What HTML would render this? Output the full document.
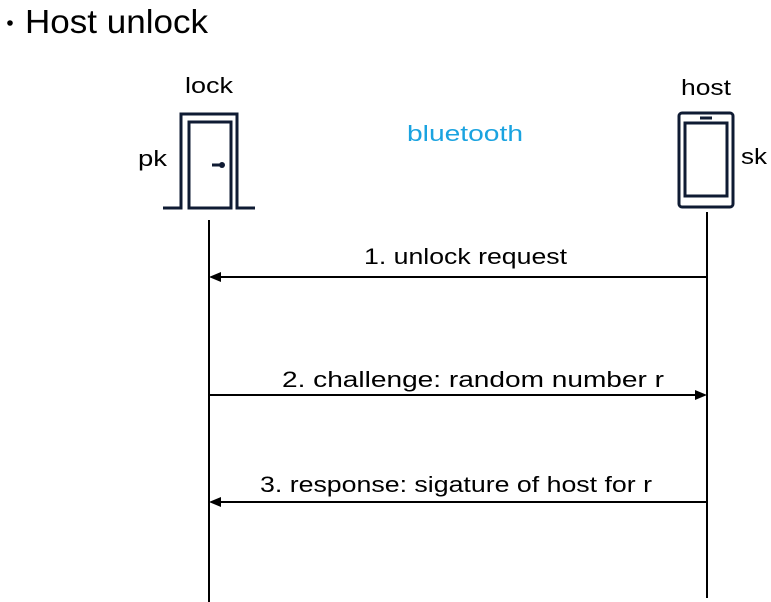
<!DOCTYPE html>
<html><head><style>body{margin:0;background:#fff}svg{display:block}</style></head><body>
<svg width="771" height="602" viewBox="0 0 771 602" xmlns="http://www.w3.org/2000/svg" font-family="Liberation Sans, sans-serif">
<circle cx="10" cy="23" r="2.8" fill="#000"/>
<text x="25" y="33" font-size="33" textLength="183" lengthAdjust="spacingAndGlyphs" fill="#000">Host unlock</text>
<text x="185" y="93" font-size="22" textLength="48" lengthAdjust="spacingAndGlyphs">lock</text>
<text x="681" y="95" font-size="22" textLength="50" lengthAdjust="spacingAndGlyphs">host</text>
<text x="138" y="166" font-size="22" textLength="29" lengthAdjust="spacingAndGlyphs">pk</text>
<text x="741" y="164" font-size="22" textLength="26" lengthAdjust="spacingAndGlyphs">sk</text>
<text x="407" y="141" font-size="22" fill="#1aa3e0" textLength="116" lengthAdjust="spacingAndGlyphs">bluetooth</text>
<g stroke="#0f1b33" stroke-width="3" fill="none">
<polyline points="163,208 181,208 181,114 237,114 237,208 255,208"/>
<rect x="189" y="122" width="42" height="86"/>
<line x1="212" y1="165" x2="220" y2="165"/>
<rect x="679" y="113" width="54" height="94" rx="3"/>
<rect x="685" y="123" width="42" height="73"/>
<line x1="700" y1="118" x2="712" y2="118"/>
</g>
<circle cx="222" cy="165" r="3" fill="#0f1b33"/>
<g stroke="#000" stroke-width="2">
<line x1="209" y1="220" x2="209" y2="602"/>
<line x1="707" y1="212" x2="707" y2="598"/>
<line x1="218" y1="277" x2="707" y2="277"/>
<line x1="209" y1="395" x2="698" y2="395"/>
<line x1="218" y1="502" x2="707" y2="502"/>
</g>
<polygon points="209,277 221,272 221,282" fill="#000"/>
<polygon points="707,395 695,390 695,400" fill="#000"/>
<polygon points="209,502 221,497 221,507" fill="#000"/>
<g font-size="22">
<text x="364" y="264" textLength="203" lengthAdjust="spacingAndGlyphs">1. unlock request</text>
<text x="282" y="387" textLength="382" lengthAdjust="spacingAndGlyphs">2. challenge: random number r</text>
<text x="260" y="492" textLength="392" lengthAdjust="spacingAndGlyphs">3. response: sigature of host for r</text>
</g>
</svg>
</body></html>
